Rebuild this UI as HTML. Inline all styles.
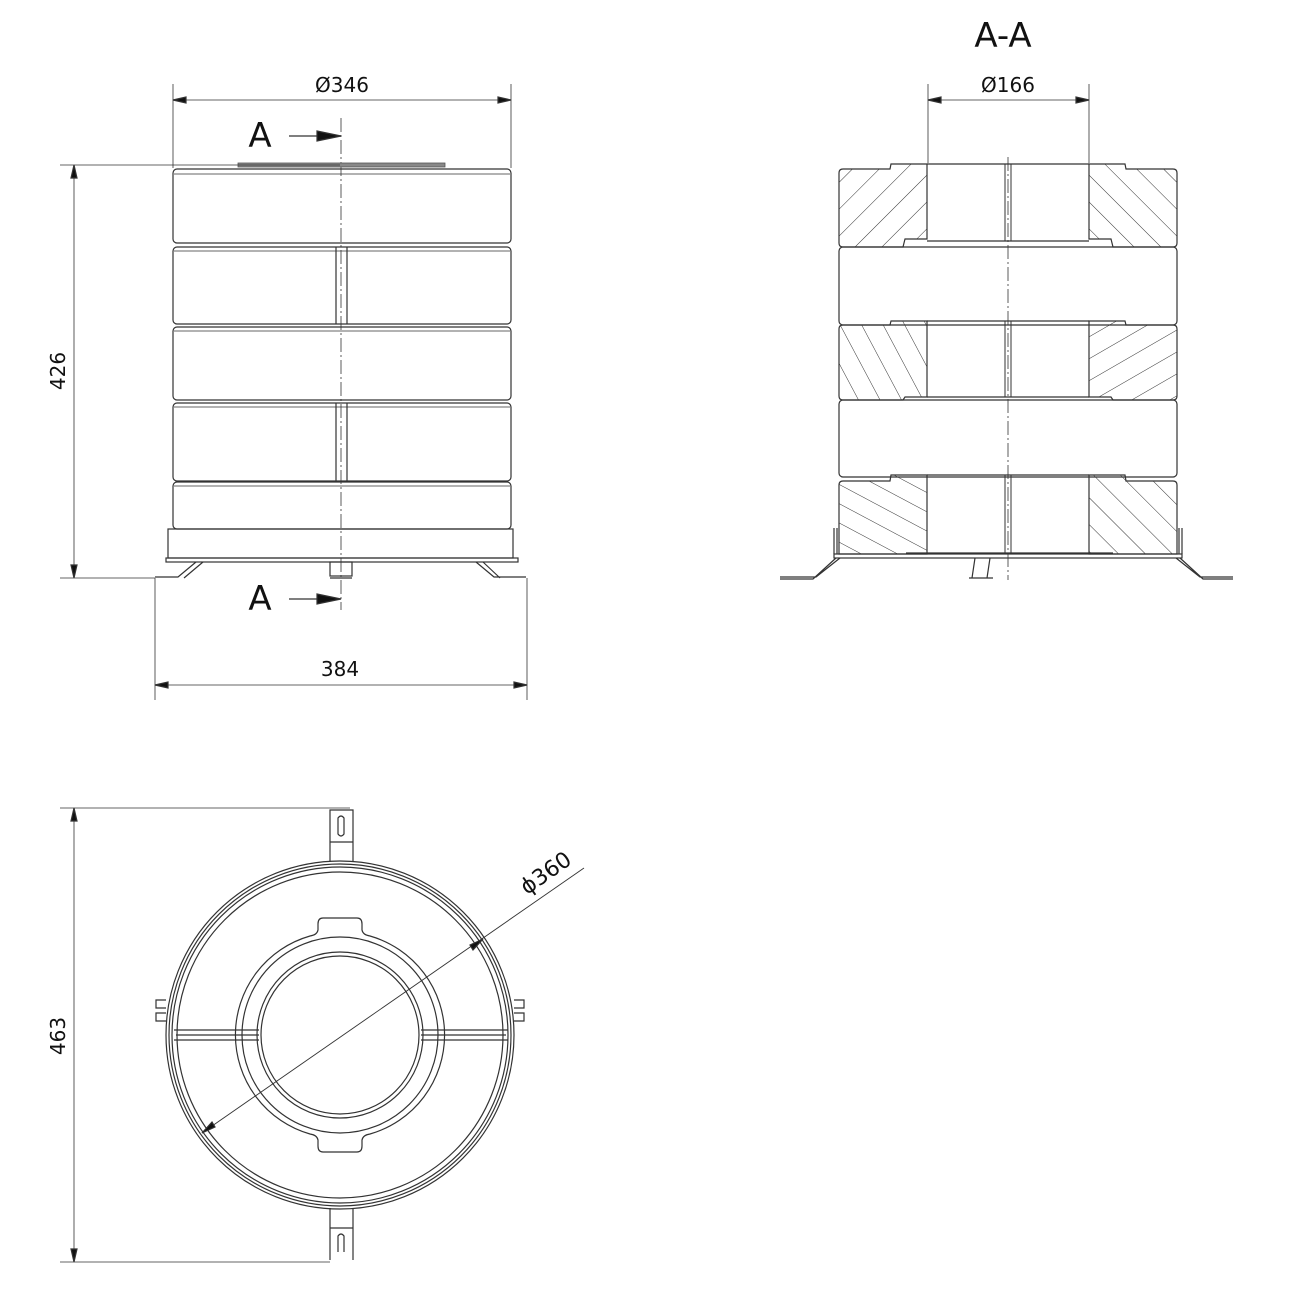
<!DOCTYPE html>
<html><head><meta charset="utf-8"><style>
html,body{margin:0;padding:0;background:#fff}
svg{display:block}
text{font-family:"DejaVu Sans","Liberation Sans",sans-serif;fill:#111}
</style></head><body>
<svg width="1300" height="1300" viewBox="0 0 1300 1300" xmlns="http://www.w3.org/2000/svg">
<defs>
<pattern id="hr" width="19" height="19" patternUnits="userSpaceOnUse" patternTransform="rotate(45)"><line x1="0" y1="0" x2="0" y2="19" stroke="#333" stroke-width="1"/></pattern>
<pattern id="hl" width="19" height="19" patternUnits="userSpaceOnUse" patternTransform="rotate(-45)"><line x1="0" y1="0" x2="0" y2="19" stroke="#333" stroke-width="1"/></pattern>
<pattern id="hl2" width="19" height="19" patternUnits="userSpaceOnUse" patternTransform="rotate(-28)"><line x1="0" y1="0" x2="0" y2="19" stroke="#333" stroke-width="1"/></pattern>
<pattern id="hr2" width="19" height="19" patternUnits="userSpaceOnUse" patternTransform="rotate(60)"><line x1="0" y1="0" x2="0" y2="19" stroke="#333" stroke-width="1"/></pattern>
<pattern id="hl3" width="17" height="17" patternUnits="userSpaceOnUse" patternTransform="rotate(-62)"><line x1="0" y1="0" x2="0" y2="17" stroke="#333" stroke-width="1"/></pattern>
</defs>
<g fill="none" stroke="#333" stroke-width="1.2">
<!-- FRONT VIEW -->
<line x1="173" y1="84" x2="173" y2="168" stroke-width="0.8"/>
<line x1="511" y1="84" x2="511" y2="168" stroke-width="0.8"/>
<line x1="173" y1="100" x2="511" y2="100" stroke-width="0.8"/>
<polygon points="173,100 186,97 186,103" fill="#111"/>
<polygon points="511,100 498,97 498,103" fill="#111"/>
<line x1="341" y1="118" x2="341" y2="610" stroke-width="0.8" stroke-dasharray="14,3,2,3"/>
<line x1="289" y1="136" x2="320" y2="136"/>
<polygon points="317,131 341,136 317,141" fill="#111"/>
<line x1="289" y1="599" x2="320" y2="599"/>
<polygon points="317,594 341,599 317,604" fill="#111"/>
<rect x="238" y="163" width="207" height="4" fill="#888" stroke="#555" stroke-width="0.8"/>
<rect x="173" y="169" width="338" height="74" rx="4"/>
<line x1="174" y1="174" x2="510" y2="174" stroke-width="0.8"/>
<rect x="173" y="247" width="338" height="77" rx="4"/>
<line x1="174" y1="251" x2="510" y2="251" stroke-width="0.8"/>
<line x1="336" y1="247" x2="336" y2="324"/><line x1="347" y1="247" x2="347" y2="324"/>
<rect x="173" y="327" width="338" height="73" rx="4"/>
<line x1="174" y1="331" x2="510" y2="331" stroke-width="0.8"/>
<rect x="173" y="403" width="338" height="78" rx="4"/>
<line x1="174" y1="407" x2="510" y2="407" stroke-width="0.8"/>
<line x1="336" y1="403" x2="336" y2="481"/><line x1="347" y1="403" x2="347" y2="481"/>
<rect x="173" y="482" width="338" height="47" rx="4"/>
<line x1="174" y1="486" x2="510" y2="486" stroke-width="0.8"/>
<rect x="168" y="529" width="345" height="29"/>
<rect x="166" y="558" width="352" height="4"/>
<rect x="330" y="562" width="22" height="14"/>
<line x1="330" y1="578" x2="352" y2="578"/>
<path d="M196,562 L178,577 L155,577 M203,562 L184,578 M476,562 L494,577 L526,577 M483,562 L500,578"/>
<!-- 426 -->
<line x1="60" y1="165" x2="340" y2="165" stroke-width="0.8"/>
<line x1="60" y1="578" x2="155" y2="578" stroke-width="0.8"/>
<line x1="74" y1="165" x2="74" y2="578" stroke-width="0.8"/>
<polygon points="74,165 71,178 77,178" fill="#111"/>
<polygon points="74,578 71,565 77,565" fill="#111"/>
<!-- 384 -->
<line x1="155" y1="578" x2="155" y2="700" stroke-width="0.8"/>
<line x1="527" y1="578" x2="527" y2="700" stroke-width="0.8"/>
<line x1="155" y1="685" x2="527" y2="685" stroke-width="0.8"/>
<polygon points="155,685 168,682 168,688" fill="#111"/>
<polygon points="527,685 514,682 514,688" fill="#111"/>

<!-- SECTION -->
<line x1="928" y1="84" x2="928" y2="163" stroke-width="0.8"/>
<line x1="1089" y1="84" x2="1089" y2="163" stroke-width="0.8"/>
<line x1="928" y1="100" x2="1089" y2="100" stroke-width="0.8"/>
<polygon points="928,100 941,97 941,103" fill="#111"/>
<polygon points="1089,100 1076,97 1076,103" fill="#111"/>
<line x1="1008" y1="157" x2="1008" y2="580" stroke-width="0.8" stroke-dasharray="14,3,2,3"/>
<!-- row1 -->
<path d="M839,173 Q839,169 843,169 L890,169 L891,164 L927,164 L927,239 L905,239 L903,247 L843,247 Q839,247 839,243 Z" fill="url(#hr)"/>
<path d="M1177,173 Q1177,169 1173,169 L1126,169 L1125,164 L1089,164 L1089,239 L1111,239 L1113,247 L1173,247 Q1177,247 1177,243 Z" fill="url(#hl)"/>
<path d="M927,164 L1089,164 M927,241 L1089,241"/>
<path d="M1005,164 L1005,241 M1011,164 L1011,241" stroke-width="1"/>
<!-- row2 -->
<rect x="839" y="247" width="338" height="78" rx="4"/>
<!-- row3 -->
<path d="M843,325 L890,325 L891,321 L927,321 L927,397 L905,397 L903,400 L843,400 Q839,400 839,396 L839,329 Q839,325 843,325 Z" fill="url(#hl2)"/>
<path d="M1173,325 L1126,325 L1125,321 L1089,321 L1089,397 L1111,397 L1113,400 L1173,400 Q1177,400 1177,396 L1177,329 Q1177,325 1173,325 Z" fill="url(#hr2)"/>
<path d="M927,321 L1089,321 M927,397 L1089,397"/>
<path d="M1005,321 L1005,397 M1011,321 L1011,397" stroke-width="1"/>
<!-- row4 -->
<rect x="839" y="400" width="338" height="77" rx="4"/>
<!-- row5 -->
<path d="M843,481 L890,481 L891,475 L927,475 L927,554 L839,554 L839,485 Q839,481 843,481 Z" fill="url(#hl3)"/>
<path d="M1173,481 L1126,481 L1125,475 L1089,475 L1089,554 L1177,554 L1177,485 Q1177,481 1173,481 Z" fill="url(#hl)"/>
<path d="M927,475 L1089,475 M906,553 L1113,553"/>
<path d="M1005,475 L1005,553 M1011,475 L1011,553" stroke-width="1"/>
<rect x="834" y="554" width="348" height="4"/>
<path d="M834,528 L834,554 M837,528 L837,554 M1179,528 L1179,554 M1182,528 L1182,554"/>
<path d="M840,558 L816,577 L780,577 M836,558 L813,579 L780,579 M1176,558 L1200,577 L1233,577 M1180,558 L1203,579 L1233,579"/>
<path d="M975,558 L972,578 M990,558 L987,578 M969,578 L993,578"/>

<!-- BOTTOM VIEW -->
<line x1="60" y1="808" x2="350" y2="808" stroke-width="0.8"/>
<line x1="60" y1="1262" x2="330" y2="1262" stroke-width="0.8"/>
<line x1="74" y1="808" x2="74" y2="1262" stroke-width="0.8"/>
<polygon points="74,808 71,821 77,821" fill="#111"/>
<polygon points="74,1262 71,1249 77,1249" fill="#111"/>
<path d="M330,862 L330,810 L353,810 L353,862 M330,842 L353,842"/>
<path d="M338,818 L338,834 Q341,838 344,834 L344,818 Q341,814 338,818 Z"/>
<path d="M330,1208 L330,1260 M353,1208 L353,1260 M330,1228 L353,1228"/>
<path d="M338,1252 L338,1236 Q341,1232 344,1236 L344,1252"/>
<circle cx="340" cy="1035" r="174"/>
<circle cx="340" cy="1035" r="171"/>
<circle cx="340" cy="1035" r="168"/>
<circle cx="340" cy="1035" r="163"/>
<path d="M323,918 Q318,918 318,924 L318,930 Q317,935 310,936 A103,103 0 0 0 310,1134 Q317,1135 318,1140 L318,1146 Q318,1152 323,1152 L357,1152 Q362,1152 362,1146 L362,1140 Q363,1135 370,1134 A103,103 0 0 0 370,936 Q363,935 362,930 L362,924 Q362,918 357,918 Z"/>
<circle cx="340" cy="1035" r="98"/>
<circle cx="340" cy="1035" r="83"/>
<circle cx="340" cy="1035" r="79"/>
<path d="M174,1030 L259,1030 M174,1040 L259,1040 M421,1030 L508,1030 M421,1040 L508,1040 M176,1035 L259,1035 M421,1035 L506,1035"/>
<path d="M166,1000 L156,1000 L156,1008 L166,1008 M166,1013 L156,1013 L156,1021 L166,1021 M514,1000 L524,1000 L524,1008 L514,1008 M514,1013 L524,1013 L524,1021 L514,1021"/>
<line x1="202" y1="1133" x2="584" y2="868" stroke-width="0.9"/>
<polygon points="202,1133 212,1122 215,1127" fill="#111"/>
<polygon points="483,939 473,950 470,945" fill="#111"/>
</g>
<text x="342" y="92" font-size="20" text-anchor="middle">Ø346</text>
<text x="260" y="147" font-size="34" text-anchor="middle">A</text>
<text x="260" y="610" font-size="34" text-anchor="middle">A</text>
<text x="340" y="676" font-size="20" text-anchor="middle">384</text>
<text transform="translate(65,371) rotate(-90)" font-size="20" text-anchor="middle">426</text>
<text x="1003" y="47" font-size="34" text-anchor="middle">A-A</text>
<text x="1008" y="92" font-size="20" text-anchor="middle">Ø166</text>
<text transform="translate(65,1036) rotate(-90)" font-size="20" text-anchor="middle">463</text>
<text transform="translate(550,879) rotate(-35)" font-size="22" text-anchor="middle">ϕ360</text>
</svg>
</body></html>
